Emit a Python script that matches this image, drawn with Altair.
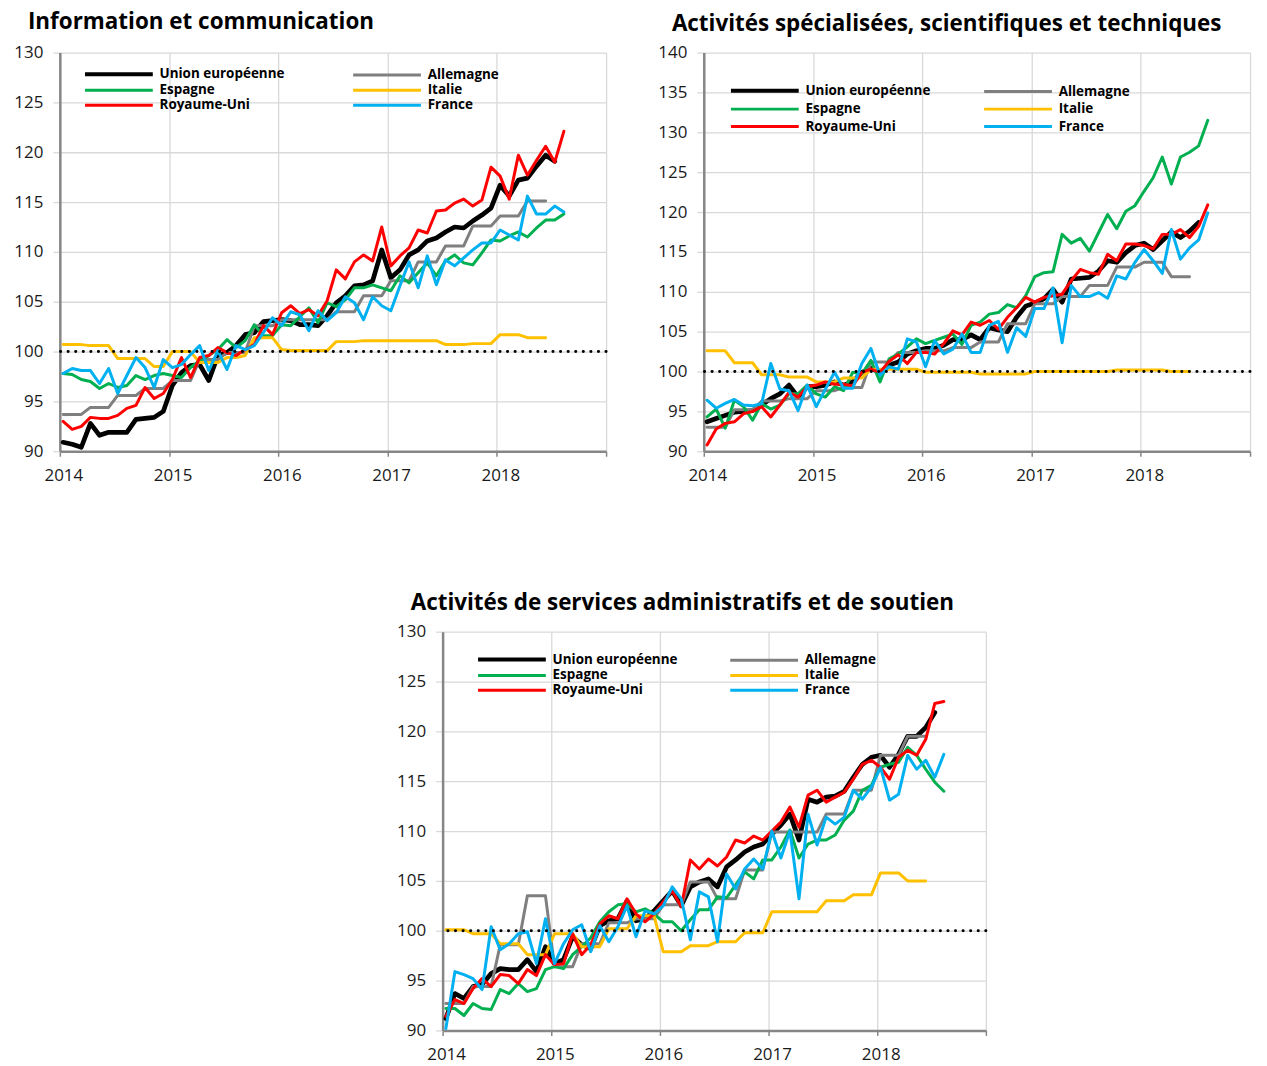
import altair as alt
import pandas as pd

SERIES = ["Union européenne", "Allemagne", "Espagne", "Italie", "Royaume-Uni", "France"]
COLORS = ["#000000", "#7F7F7F", "#00B050", "#FFC000", "#FF0000", "#00B0F0"]
# legend fills column by column: left column UE / Espagne / Royaume-Uni
LEGEND_ORDER = ["Union européenne", "Espagne", "Royaume-Uni", "Allemagne", "Italie", "France"]
LEGEND_COLORS = ["#000000", "#00B050", "#FF0000", "#7F7F7F", "#FFC000", "#00B0F0"]
YEARS = [2014, 2015, 2016, 2017, 2018, 2019]
START_YEAR = 2014
MONTH_POS = 0.36  # monthly points sit slightly inside their month (Excel style)
FONT = "Open Sans"

# ---------------- Panel 1 : Information et communication ----------------
TITLE_1 = "Information et communication"
UE_1 = [90.9, 90.7, 90.4, 92.8, 91.6, 91.9, 91.9, 91.9, 93.2, 93.3, 93.4, 94.0,
        96.6, 97.9, 98.6, 98.7, 97.1, 99.6, 99.9, 100.6, 101.7, 101.9, 103.0, 103.1,
        103.2, 103.1, 102.7, 102.7, 102.6, 103.6, 104.9, 105.6, 106.6, 106.7, 107.1, 110.2,
        107.4, 108.2, 109.7, 110.2, 111.1, 111.4, 112.0, 112.5, 112.4, 113.1, 113.7, 114.4,
        116.7, 115.6, 117.2, 117.4, 118.6, 119.7, 119.1]
DE_1 = [93.7, 93.7, 93.7, 94.4, 94.4, 94.4, 95.6, 95.6, 95.6, 96.3, 96.3, 96.3,
        97.1, 97.1, 97.1, 99.2, 99.2, 99.2, 99.9, 99.9, 99.9, 102.6, 102.6, 102.6,
        103.2, 103.2, 103.2, 103.2, 103.2, 103.2, 104.0, 104.0, 104.0, 105.6, 105.6, 105.6,
        107.1, 107.1, 107.1, 109.0, 109.0, 109.0, 110.6, 110.6, 110.6, 112.6, 112.6, 112.6,
        113.6, 113.6, 113.6, 115.1, 115.1, 115.1]
ES_1 = [97.8, 97.7, 97.2, 97.0, 96.3, 96.8, 96.4, 96.6, 97.6, 97.2, 97.6, 97.8,
        97.6, 97.4, 98.4, 99.1, 99.6, 100.2, 101.2, 100.4, 101.1, 102.7, 101.6, 101.6,
        102.7, 102.6, 103.5, 104.4, 102.9, 104.9, 104.5, 105.2, 106.4, 106.4, 106.7, 106.4,
        106.1, 107.6, 106.9, 107.9, 108.9, 107.6, 109.1, 109.7, 108.9, 108.7, 109.9, 111.2,
        111.1, 111.6, 112.0, 111.5, 112.4, 113.2, 113.2, 113.8]
IT_1 = [100.7, 100.7, 100.7, 100.6, 100.6, 100.6, 99.3, 99.3, 99.3, 99.3, 98.5, 98.5,
        100.0, 100.0, 100.0, 98.9, 98.9, 98.9, 99.4, 99.4, 99.6, 101.4, 101.4, 101.4,
        100.2, 100.1, 100.1, 100.1, 100.1, 100.1, 101.0, 101.0, 101.0, 101.1, 101.1, 101.1,
        101.1, 101.1, 101.1, 101.1, 101.1, 101.1, 100.7, 100.7, 100.7, 100.8, 100.8, 100.8,
        101.7, 101.7, 101.7, 101.4, 101.4, 101.4]
UK_1 = [93.0, 92.2, 92.5, 93.4, 93.3, 93.3, 93.6, 94.3, 94.6, 96.4, 95.3, 95.8,
        97.2, 99.4, 97.4, 99.4, 99.6, 100.4, 99.9, 99.6, 100.2, 100.7, 102.6, 101.7,
        103.9, 104.6, 103.8, 104.2, 103.6, 105.1, 108.2, 107.3, 109.0, 109.7, 109.1, 112.5,
        108.6, 109.6, 110.4, 112.2, 111.9, 114.1, 114.2, 114.9, 115.3, 114.6, 115.2, 118.5,
        117.6, 115.3, 119.7, 117.7, 119.2, 120.6, 119.0, 122.1]
FR_1 = [97.8, 98.3, 98.1, 98.1, 96.8, 98.3, 95.8, 97.6, 99.4, 98.4, 96.4, 99.2,
        98.4, 98.7, 99.7, 100.6, 98.1, 100.1, 98.2, 100.6, 100.2, 100.6, 101.9, 103.4,
        102.6, 104.0, 103.7, 102.1, 104.1, 103.1, 103.9, 105.5, 104.9, 103.2, 105.5, 104.6,
        104.1, 106.6, 109.0, 106.4, 109.6, 106.7, 109.2, 108.6, 109.4, 110.2, 110.9, 110.9,
        112.2, 111.7, 111.2, 115.6, 113.8, 113.8, 114.6, 114.0]

# ------- Panel 2 : Activités spécialisées, scientifiques et techniques -------
TITLE_2 = "Activités spécialisées, scientifiques et techniques"
UE_2 = [93.7, 94.1, 94.5, 94.9, 95.0, 95.1, 95.8, 96.6, 97.2, 98.3, 96.8, 98.1,
        98.1, 98.3, 98.7, 98.3, 98.7, 99.9, 100.4, 99.9, 100.8, 101.2, 102.2, 102.6,
        102.9, 102.9, 103.3, 104.0, 104.0, 104.6, 104.0, 105.5, 105.2, 105.0, 106.8, 108.2,
        108.6, 109.1, 110.3, 108.7, 111.6, 111.7, 111.8, 112.6, 113.9, 113.7, 114.9, 115.8,
        116.1, 115.3, 116.4, 117.5, 116.8, 117.6, 118.7]
DE_2 = [93.0, 93.0, 93.0, 95.2, 95.2, 95.2, 96.3, 96.3, 96.3, 96.6, 96.6, 96.6,
        97.6, 97.6, 97.6, 98.0, 98.0, 98.0, 101.2, 101.2, 101.2, 102.4, 102.4, 102.4,
        102.6, 102.6, 102.6, 103.0, 103.0, 103.0, 103.7, 103.7, 103.7, 106.0, 106.0, 106.0,
        108.5, 108.5, 108.5, 109.4, 109.4, 109.4, 110.8, 110.8, 110.8, 113.1, 113.1, 113.1,
        113.7, 113.7, 113.7, 111.9, 111.9, 111.9]
ES_2 = [94.3, 95.3, 92.9, 96.4, 95.6, 93.9, 96.0, 95.3, 95.8, 97.2, 97.2, 98.3,
        97.2, 96.8, 98.1, 97.6, 99.9, 99.7, 101.4, 98.7, 101.6, 102.2, 103.1, 104.1,
        103.5, 103.9, 104.3, 104.7, 103.4, 105.8, 106.2, 107.2, 107.4, 108.4, 108.0, 109.5,
        111.9, 112.4, 112.5, 117.2, 116.1, 116.7, 115.1, 117.4, 119.7, 117.9, 120.1, 120.8,
        122.6, 124.3, 126.9, 123.5, 126.9, 127.5, 128.3, 131.5]
IT_2 = [102.6, 102.6, 102.6, 101.1, 101.1, 101.1, 99.6, 99.6, 99.6, 99.3, 99.3, 99.3,
        98.7, 98.7, 98.7, 99.2, 99.2, 99.2, 100.3, 100.3, 100.3, 100.3, 100.3, 100.3,
        99.9, 99.9, 99.9, 99.9, 99.9, 99.9, 99.7, 99.7, 99.7, 99.7, 99.7, 99.7,
        100.0, 100.0, 100.0, 100.0, 100.0, 100.0, 100.0, 100.0, 100.0, 100.2, 100.2, 100.2,
        100.2, 100.2, 100.2, 100.0, 100.0, 100.0]
UK_2 = [90.8, 92.8, 93.5, 93.7, 94.7, 95.0, 95.6, 94.3, 95.8, 97.4, 96.8, 98.1,
        98.3, 98.7, 98.4, 98.4, 98.2, 99.9, 100.3, 99.9, 101.3, 102.1, 101.0, 102.4,
        102.4, 102.2, 103.5, 105.1, 104.6, 106.2, 105.8, 106.4, 105.3, 106.8, 108.0, 109.3,
        108.7, 109.3, 109.5, 109.7, 111.4, 112.8, 112.4, 112.2, 114.7, 113.9, 116.0, 116.0,
        115.8, 115.4, 117.2, 117.2, 117.8, 116.8, 118.2, 120.9]
FR_2 = [96.4, 95.4, 96.0, 96.5, 95.8, 95.7, 96.0, 101.0, 97.8, 97.6, 95.1, 98.3,
        95.6, 97.8, 99.9, 97.9, 97.9, 101.0, 102.9, 99.5, 100.6, 100.3, 104.1, 103.7,
        100.6, 103.9, 102.2, 102.8, 104.7, 102.4, 102.4, 105.8, 106.3, 102.4, 105.5, 104.4,
        107.9, 107.9, 110.5, 103.6, 110.8, 109.4, 109.4, 109.9, 109.2, 112.0, 111.6, 113.7,
        115.3, 113.9, 112.3, 117.8, 114.1, 115.5, 116.5, 119.9]

# ------- Panel 3 : Activités de services administratifs et de soutien -------
TITLE_3 = "Activités de services administratifs et de soutien"
UE_3 = [91.2, 93.7, 93.2, 94.4, 94.6, 95.7, 96.2, 96.1, 96.1, 97.1, 95.9, 98.4,
        96.7, 97.1, 99.4, 98.6, 98.2, 100.5, 101.0, 101.2, 103.0, 101.0, 101.2, 102.0,
        103.0, 104.0, 102.5, 104.4, 104.9, 105.2, 104.4, 106.4, 107.1, 107.9, 108.4, 108.7,
        109.7, 110.6, 111.7, 109.1, 113.2, 112.9, 113.4, 113.5, 114.0, 115.4, 116.7, 117.4,
        117.6, 116.4, 117.7, 119.5, 119.5, 120.4, 121.9]
DE_3 = [92.7, 92.7, 92.7, 94.4, 94.4, 94.4, 98.6, 98.6, 98.6, 103.5, 103.5, 103.5,
        96.4, 96.4, 96.4, 98.7, 98.7, 98.7, 100.8, 100.8, 100.8, 101.2, 101.2, 101.2,
        102.6, 102.6, 102.6, 104.9, 104.9, 104.9, 103.2, 103.2, 103.2, 106.1, 106.1, 106.1,
        109.9, 109.9, 109.9, 109.9, 109.9, 109.9, 111.7, 111.7, 111.7, 114.1, 114.1, 114.1,
        117.6, 117.6, 117.6, 119.5, 119.5, 119.5]
ES_3 = [92.2, 92.2, 91.5, 92.7, 92.2, 92.1, 94.1, 93.7, 94.7, 93.9, 94.2, 96.1,
        96.4, 96.2, 97.6, 98.4, 99.3, 100.9, 101.9, 102.6, 102.7, 101.9, 102.2, 101.7,
        100.9, 100.9, 100.0, 101.1, 102.1, 102.1, 103.4, 103.3, 104.6, 105.9, 105.2, 107.1,
        107.1, 108.4, 110.1, 107.3, 108.7, 109.1, 109.1, 109.6, 111.1, 112.0, 114.1, 114.6,
        116.4, 116.7, 116.9, 118.4, 117.6, 116.2, 114.9, 114.0]
IT_3 = [100.1, 100.1, 100.1, 99.7, 99.7, 99.7, 98.7, 98.7, 98.7, 97.6, 97.6, 97.6,
        99.7, 99.7, 99.7, 98.4, 98.4, 98.4, 100.2, 100.2, 100.2, 101.5, 101.5, 101.5,
        97.9, 97.9, 97.9, 98.5, 98.5, 98.5, 98.9, 98.9, 98.9, 99.8, 99.8, 99.8,
        101.9, 101.9, 101.9, 101.9, 101.9, 101.9, 103.0, 103.0, 103.0, 103.6, 103.6, 103.6,
        105.8, 105.8, 105.8, 105.0, 105.0, 105.0]
UK_3 = [91.4, 93.1, 92.7, 94.2, 95.2, 94.4, 95.6, 95.5, 94.7, 96.1, 95.5, 97.6,
        96.6, 96.7, 99.7, 97.6, 98.6, 100.7, 101.5, 101.2, 103.2, 101.7, 100.9, 101.7,
        102.9, 104.0, 102.4, 107.1, 106.2, 107.2, 106.5, 107.4, 109.1, 108.8, 109.5, 109.1,
        110.0, 110.9, 112.4, 110.4, 113.6, 114.1, 112.9, 113.4, 113.9, 115.2, 116.7, 117.1,
        116.4, 115.2, 117.4, 118.1, 117.6, 119.2, 122.8, 123.0]
FR_3 = [90.2, 95.9, 95.6, 95.2, 94.1, 100.4, 98.1, 98.7, 99.7, 99.9, 96.7, 101.2,
        96.7, 98.7, 100.1, 100.6, 97.9, 100.5, 98.9, 100.4, 102.5, 99.4, 102.0, 101.7,
        102.5, 104.4, 103.2, 99.1, 103.9, 103.4, 98.9, 105.7, 104.2, 106.2, 107.2, 106.2,
        110.0, 107.3, 110.0, 103.2, 111.7, 108.6, 111.4, 110.7, 111.4, 114.1, 113.2, 114.4,
        116.4, 113.1, 113.7, 117.6, 116.2, 117.1, 115.4, 117.7]

REFERENCE_LEVEL = [100]


def make_df(values_by_series):
    rows = []
    for name, vals in zip(SERIES, values_by_series):
        for i, v in enumerate(vals):
            rows.append({"pays": name, "date": START_YEAR + (i + MONTH_POS) / 12, "indice": v})
    return pd.DataFrame(rows)


def panel(df, title, ymax, width, title_offset, lx, ly, colpad, rowpad):
    x_axis = alt.Axis(
        values=YEARS, format="d",
        labelExpr="datum.value < 2019 ? datum.label : ''",
        grid=True, gridColor="#D9D9D9", gridWidth=1.3,
        domainColor="#868686", domainWidth=2.5,
        tickColor="#868686", tickSize=5, tickWidth=1.5,
        labelFontSize=17, labelColor="#1A1A1A", labelPadding=11, labelOffset=3.5,
        labelFlush=False, labelOverlap=False, title=None,
    )
    y_axis = alt.Axis(
        values=list(range(90, ymax + 1, 5)),
        grid=True, gridColor="#D9D9D9", gridWidth=1.3,
        domainColor="#868686", domainWidth=2.5,
        tickColor="#D9D9D9", tickSize=7, tickWidth=1.3,
        labelFontSize=17, labelColor="#1A1A1A", labelPadding=10,
        labelFlush=False, labelOverlap=False, title=None,
    )
    legend = alt.Legend(
        orient="none", legendX=lx, legendY=ly, columns=2, title=None,
        symbolType="M0,0H17", symbolSize=64,
        symbolStrokeWidth=alt.ExprRef("datum.value === 'Union européenne' ? 4 : 3"),
        labelFont=FONT, labelFontSize=13.5, labelFontWeight="bold", labelColor="#000000",
        labelOffset=68, columnPadding=colpad, rowPadding=rowpad, padding=0,
    )
    y_scale = alt.Scale(domain=[90, ymax], nice=False, zero=False)
    lines = alt.Chart(df).mark_line(strokeJoin="round", strokeCap="round").encode(
        x=alt.X("date:Q", scale=alt.Scale(domain=[2014, 2019], nice=False, zero=False), axis=x_axis),
        y=alt.Y("indice:Q", scale=y_scale, axis=y_axis),
        color=alt.Color("pays:N", scale=alt.Scale(domain=LEGEND_ORDER, range=LEGEND_COLORS), legend=legend),
        strokeWidth=alt.condition(alt.datum.pays == "Union européenne", alt.value(4.7), alt.value(3)),
    )
    ref = alt.Chart(pd.DataFrame({"niveau": REFERENCE_LEVEL})).mark_rule(
        color="#000000", strokeWidth=3, strokeDash=[0.1, 7.5], strokeCap="round"
    ).encode(y=alt.Y("niveau:Q", scale=y_scale, axis=y_axis))
    return alt.layer(lines, ref).properties(
        width=width, height=400,
        title=alt.TitleParams(
            title, anchor="start", frame="group", dx=-32, offset=title_offset,
            baseline="alphabetic", fontSize=22.5, font=FONT, fontWeight="bold", color="#000000",
        ),
    )


p1 = panel(make_df([UE_1, DE_1, ES_1, IT_1, UK_1, FR_1]), TITLE_1, 130, 548, -7.6, 18.5, 15, 62, 0)
p2 = panel(make_df([UE_2, DE_2, ES_2, IT_2, UK_2, FR_2]), TITLE_2, 140, 548, -10, 20.5, 31.5, 47, 2.5)
p3 = panel(make_df([UE_3, DE_3, ES_3, IT_3, UK_3, FR_3]), TITLE_3, 130, 545, -10, 28.8, 21.1, 46, 0)

spacer = alt.Chart(pd.DataFrame({"vide": [0]})).mark_point(opacity=0).properties(width=383.5, height=10)

top = alt.hconcat(p1, p2, spacing=98, bounds="flush").resolve_scale(color="independent")
bottom = alt.hconcat(spacer, p3, spacing=0, bounds="flush").resolve_scale(color="independent")

chart = alt.vconcat(top, bottom, spacing=109).resolve_scale(color="independent").configure(
    font=FONT, padding={"left": 5, "top": 1, "right": 5, "bottom": 5}
).configure_view(stroke=None).configure_axis(labelFont=FONT)

chart.save("out.html", embed_options={"renderer": "svg", "actions": False})
